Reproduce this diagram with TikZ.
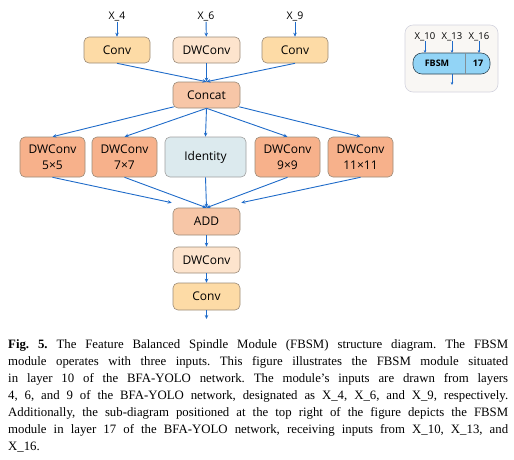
\documentclass[tikz,border=0pt]{standalone}
\usepackage{fontspec}
\setmainfont{Liberation Serif}
\newfontfamily\diafont{Open Sans}
\usetikzlibrary{arrows.meta}
\frenchspacing
\definecolor{convfill}{HTML}{FDDBA6}
\definecolor{dwlfill}{HTML}{FDE4CD}
\definecolor{catfill}{HTML}{F7C6A7}
\definecolor{dwrfill}{HTML}{F7B18B}
\definecolor{idfill}{HTML}{DCEAEE}
\definecolor{boxline}{HTML}{9A8A78}
\definecolor{arrowblue}{HTML}{1F6BC9}
\definecolor{insetbg}{HTML}{F9F7F4}
\definecolor{insetline}{HTML}{D3D3DE}
\definecolor{fbsmfill}{HTML}{92D4F6}
\definecolor{fbsmline}{HTML}{2E4452}
\tikzset{
  blk/.style={draw=boxline, line width=0.6pt, rounded corners=5pt, minimum width=66pt, minimum height=26pt, inner sep=0pt, font=\diafont\fontsize{12}{14}\selectfont, align=center},
  rowblk/.style={blk, minimum height=40pt, font=\diafont\fontsize{12}{15.5}\selectfont},
  lbl/.style={font=\diafont\fontsize{10.5}{12}\selectfont, inner sep=0pt},
  smlbl/.style={font=\diafont\fontsize{9.5}{10}\selectfont, inner sep=0pt},
  arr/.style={draw=arrowblue, line width=0.9pt, -{Stealth[length=4pt,width=3.5pt]}}
}
\begin{document}
\begin{tikzpicture}[x=1pt,y=-1pt]
\useasboundingbox (0,0) rectangle (514,459);
% inputs
\node[lbl] (x4) at (117,17) {X\_4};
\node[lbl] (x6) at (206,17) {X\_6};
\node[lbl] (x9) at (295,17) {X\_9};
\node[blk, fill=convfill] (c1) at (117,50) {Conv};
\node[blk, fill=dwlfill, minimum width=67pt] (c2) at (206.5,50) {DWConv};
\node[blk, fill=convfill] (c3) at (295,50) {Conv};
\node[blk, fill=catfill, minimum width=67pt] (cat) at (206.5,95) {Concat};
% row
\node[rowblk, fill=dwrfill, minimum width=65pt] (d5) at (52.5,157) {DWConv\\5×5};
\node[rowblk, fill=dwrfill, minimum width=65pt] (d7) at (124.5,157) {DWConv\\7×7};
\node[rowblk, fill=idfill, draw=gray!75, minimum width=81pt] (id) at (205.5,157) {Identity};
\node[rowblk, fill=dwrfill, minimum width=65pt] (d9) at (287.5,157) {DWConv\\9×9};
\node[rowblk, fill=dwrfill, minimum width=65pt] (d11) at (360.5,157) {DWConv\\11×11};
\node[blk, fill=catfill, minimum width=67pt, minimum height=27pt] (add) at (206.5,221.5) {ADD};
\node[blk, fill=dwlfill, minimum width=67pt] (dw) at (206.5,260) {DWConv};
\node[blk, fill=convfill, minimum width=67pt, minimum height=27pt] (cv) at (206.5,296.5) {Conv};
\coordinate (out) at (206.5,319);
% connectors
\draw[arr] (x4) -- (c1);
\draw[arr] (x6) -- (c2);
\draw[arr] (x9) -- (c3);
\draw[arr] (c1.south) -- (cat.north);
\draw[arr] (c2.south) -- (cat.north);
\draw[arr] (c3.south) -- (cat.north);
\draw[arr] ([xshift=1pt,yshift=1.5pt]cat.south west) -- (d5.north);
\draw[arr] (cat.south) -- (d7.north);
\draw[arr] (cat.south) -- (id.north);
\draw[arr] (cat.south) -- (d9.north);
\draw[arr] ([xshift=-1pt,yshift=1.5pt]cat.south east) -- (d11.north);
\draw[arr] (d5.south) -- ([xshift=-1pt,yshift=5pt]add.north west);
\draw[arr] (d7.south) -- (add.north);
\draw[arr] (id.south) -- (add.north);
\draw[arr] (d9.south) -- (add.north);
\draw[arr] (d11.south) -- ([xshift=1pt,yshift=5pt]add.north east);
\draw[arr] (add) -- (dw);
\draw[arr] (dw) -- (cv);
\draw[arr] (cv) -- (out);
% inset
\node[draw=insetline, fill=insetbg, line width=0.6pt, rounded corners=8pt, minimum width=93pt, minimum height=67pt, inner sep=0pt] (inset) at (451.5,58.5) {};
\node[draw=fbsmline, fill=fbsmfill, line width=0.6pt, rounded corners=9pt, minimum width=77pt, minimum height=21pt, inner sep=0pt] (fbsm) at (451.5,63.5) {};
\coordinate (divt) at (465,53);
\coordinate (divb) at (465,74);
\draw[draw=fbsmline!60, line width=0.5pt] (divt) -- (divb);
\node[smlbl, font=\diafont\bfseries\fontsize{9}{10}\selectfont] (fl) at (437,63.5) {FBSM};
\node[smlbl, font=\diafont\bfseries\fontsize{9}{10}\selectfont] (fn) at (478,63.5) {17};
\node[smlbl] (x10) at (425,37) {X\_10};
\node[smlbl] (x13) at (452,37) {X\_13};
\node[smlbl] (x16) at (479,37) {X\_16};
\coordinate (i10) at (425,53);
\coordinate (i13) at (452,53);
\coordinate (i16) at (479,53);
\coordinate (o17) at (452,85);
\tikzset{sarr/.style={draw=arrowblue, line width=0.6pt, -{Stealth[length=3pt,width=2.6pt]}}}
\draw[sarr] (x10) -- (i10);
\draw[sarr] (x13) -- (i13);
\draw[sarr] (x16) -- (i16);
\draw[sarr] (i13 |- fbsm.south) -- (o17);
% caption
\node[anchor=north west, inner sep=0pt, text width=500pt, align=justify, font=\fontsize{12.8}{17}\selectfont] (cap) at (8,339) {\textbf{Fig. 5.} The Feature Balanced Spindle Module (FBSM) structure diagram. The FBSM\linebreak module operates with three inputs. This figure illustrates the FBSM module situated\linebreak in layer 10 of the BFA-YOLO network. The module’s inputs are drawn from layers\linebreak 4, 6, and 9 of the BFA-YOLO network, designated as X\_4, X\_6, and X\_9, respectively.\linebreak Additionally, the sub-diagram positioned at the top right of the figure depicts the FBSM\linebreak module in layer 17 of the BFA-YOLO network, receiving inputs from X\_10, X\_13, and\linebreak X\_16.};
\end{tikzpicture}
\end{document}
